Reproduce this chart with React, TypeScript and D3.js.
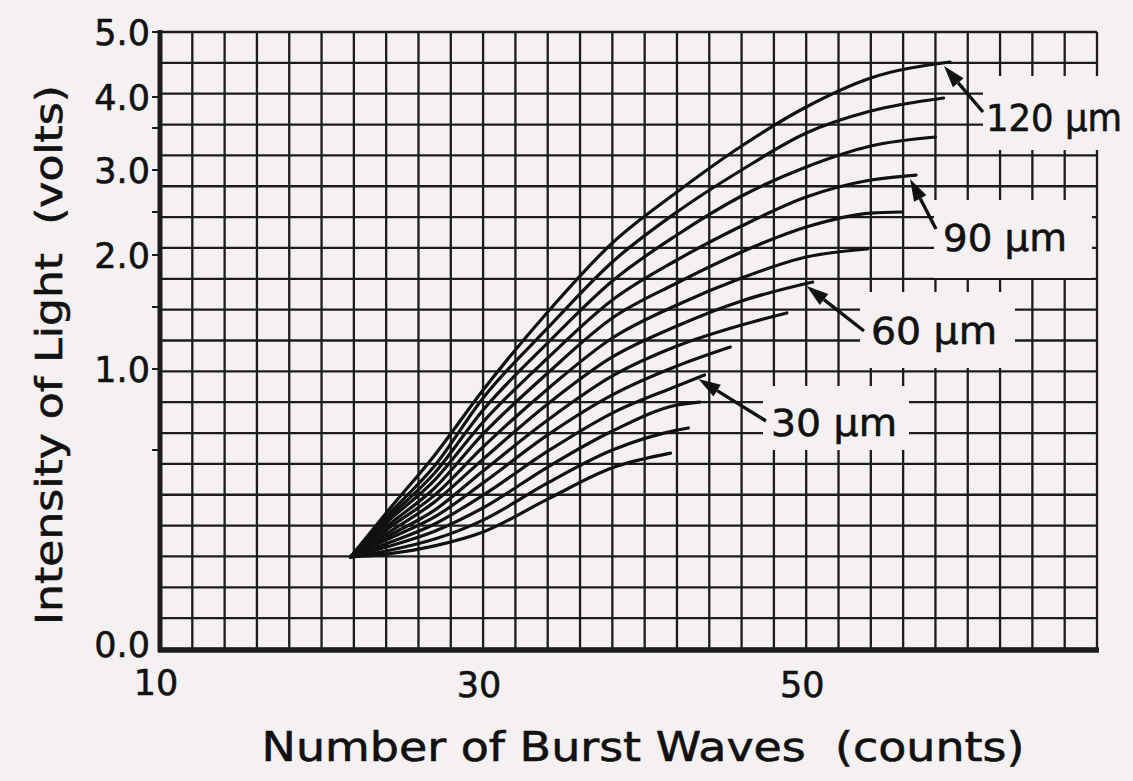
import React from 'react';
import * as d3 from 'd3';

// plate thickness of each curve (µm), bottom curve first
const thickness = [0, 10, 20, 30, 40, 50, 60, 70, 80, 90, 100, 110, 120];
const labelled = [30, 60, 90, 120];

// [burst waves (counts), intensity (volts)]
const s0 = [[21.8, 0.23], [24, 0.237], [27, 0.258], [30, 0.293], [34, 0.376], [38, 0.455], [41.6, 0.492]];
const s10 = [[21.8, 0.23], [24, 0.245], [27, 0.275], [30, 0.323], [34, 0.417], [38, 0.5], [42, 0.623], [42.7, 0.636]];
const s20 = [[21.8, 0.23], [24, 0.255], [27, 0.295], [30, 0.354], [34, 0.457], [38, 0.617], [42, 0.778], [43.4, 0.796]];
const s30 = [[21.8, 0.23], [24, 0.263], [27, 0.313], [30, 0.386], [34, 0.497], [38, 0.728], [42, 0.895], [43.7, 0.963]];
const s40 = [[21.8, 0.23], [24, 0.273], [27, 0.331], [30, 0.417], [34, 0.593], [38, 0.84], [42, 1.024], [45.3, 1.177]];
const s50 = [[21.8, 0.23], [24, 0.28], [27, 0.348], [30, 0.447], [34, 0.685], [38, 0.957], [42, 1.185], [46, 1.355], [48.8, 1.452]];
const s60 = [[21.8, 0.23], [24, 0.288], [27, 0.369], [30, 0.477], [34, 0.784], [38, 1.097], [42, 1.347], [46, 1.558], [50.4, 1.74]];
const s70 = [[21.8, 0.23], [24, 0.298], [27, 0.386], [30, 0.519], [34, 0.877], [38, 1.25], [42, 1.519], [46, 1.779], [50, 1.981], [53.8, 2.07]];
const s80 = [[21.8, 0.23], [24, 0.306], [27, 0.404], [30, 0.599], [34, 0.975], [38, 1.411], [42, 1.731], [46, 2.035], [50, 2.326], [54, 2.488], [55.9, 2.5]];
const s90 = [[21.8, 0.23], [24, 0.316], [27, 0.424], [30, 0.673], [34, 1.089], [38, 1.567], [42, 1.952], [46, 2.337], [50, 2.679], [54, 2.881], [56.8, 2.94]];
const s100 = [[21.8, 0.23], [24, 0.323], [27, 0.442], [30, 0.747], [34, 1.21], [38, 1.75], [42, 2.233], [46, 2.69], [50, 3.036], [54, 3.286], [58, 3.393]];
const s110 = [[21.8, 0.23], [24, 0.331], [27, 0.46], [30, 0.821], [34, 1.331], [38, 1.933], [42, 2.5], [46, 3.0], [50, 3.44], [54, 3.774], [58.5, 3.984]];
const s120 = [[21.8, 0.23], [24, 0.341], [27, 0.487], [30, 0.87], [34, 1.46], [38, 2.14], [42, 2.738], [46, 3.286], [50, 3.839], [54, 4.292], [58.9, 4.538]];
const series = [s0, s10, s20, s30, s40, s50, s60, s70, s80, s90, s100, s110, s120];

const yTicks = [0, 1, 2, 3, 4, 5];
const yMinor = [0.5, 1.5, 2.5, 3.5];
const xTicks = [10, 30, 50];

const W = 1133;
const H = 781;
const BG = '#f5f1f3';
const INK = '#1c1c1c';
const FONT = '"DejaVu Sans", sans-serif';

const plot = { left: 160, right: 1097, top: 32, bottom: 649 };
// the volt axis of the original paper is not linear: break points of the scale
const voltStops = [0, 0.5, 1, 1.5, 2, 2.5, 3, 3.5, 4, 5];
const voltPos = [648, 450, 369, 307, 255, 212, 170, 128, 97, 32];

// label boxes (x, y, w, h), text origin, text width, arrow start
const labelLayout: Record<number, { box: number[]; text: number[]; len: number; from: number[] }> = {
  120: { box: [983, 76, 150, 74], text: [986, 131], len: 136, from: [983, 112] },
  90: { box: [934, 200, 158, 78], text: [943, 251], len: 124, from: [936, 229] },
  60: { box: [860, 292, 155, 76], text: [871, 344], len: 126, from: [864, 331] },
  30: { box: [763, 386, 146, 64], text: [771, 436], len: 126, from: [766, 421] },
};

export default function App() {
  const x = d3.scaleLinear().domain([10, 68]).range([plot.left, plot.right]);
  const y = d3.scaleLinear().domain(voltStops).range(voltPos);
  const row = d3.scaleLinear().domain([0, 20]).range([plot.bottom, plot.top]);

  const line = d3
    .line<number[]>()
    .x((d) => x(d[0]))
    .y((d) => y(d[1]))
    .curve(d3.curveMonotoneX);

  const vLines = d3.range(10, 68.01, 2);
  const hLines = d3.range(0, 21);

  const textStyle = { fontFamily: FONT, fill: '#111', stroke: '#111', strokeWidth: 0.6 };

  return (
    <svg width={W} height={H} style={{ position: 'absolute', left: 0, top: 0, background: BG }}>
      <rect width={W} height={H} fill={BG} />
      <g stroke={INK} strokeWidth={2.3}>
        {vLines.map((v) => (
          <line key={'v' + v} x1={x(v)} x2={x(v)} y1={plot.top} y2={plot.bottom} />
        ))}
        {hLines.map((r) => (
          <line key={'h' + r} x1={plot.left} x2={plot.right} y1={row(r)} y2={row(r)} />
        ))}
      </g>
      {/* axis lines */}
      <line x1={plot.left} x2={plot.left} y1={plot.top - 2} y2={plot.bottom + 3} stroke={INK} strokeWidth={5} />
      <line x1={plot.left - 2} x2={plot.right + 2} y1={plot.bottom + 1} y2={plot.bottom + 1} stroke={INK} strokeWidth={5.5} />
      <g stroke={INK} strokeWidth={2}>
        {yTicks.concat(yMinor).filter((v) => v > 0).map((v) => (
          <line key={'t' + v} x1={plot.left - 8} x2={plot.left} y1={y(v)} y2={y(v)} />
        ))}
      </g>

      {/* blank label areas on the paper */}
      {labelled.map((t) => {
        const b = labelLayout[t].box;
        return <rect key={'b' + t} x={b[0]} y={b[1]} width={b[2]} height={b[3]} fill={BG} />;
      })}

      <g fill="none" stroke="#111" strokeWidth={3.2} strokeLinecap="round">
        {series.map((s, i) => (
          <path key={'c' + thickness[i]} d={line(s) || ''} />
        ))}
      </g>

      {labelled.map((t) => {
        const s = series[thickness.indexOf(t)];
        const end = s[s.length - 1];
        const tip = [x(end[0]) - 6, y(end[1]) + 4];
        const L = labelLayout[t];
        const dx = tip[0] - L.from[0];
        const dy = tip[1] - L.from[1];
        const len = Math.hypot(dx, dy);
        const ux = dx / len;
        const uy = dy / len;
        const hl = 22;
        const hw = 7;
        const bx = tip[0] - ux * hl;
        const by = tip[1] - uy * hl;
        const head = `M${tip[0]},${tip[1]} L${bx - uy * hw},${by + ux * hw} L${bx + uy * hw},${by - ux * hw} Z`;
        return (
          <g key={'l' + t}>
            <line x1={L.from[0]} y1={L.from[1]} x2={bx} y2={by} stroke="#111" strokeWidth={3.4} />
            <path d={head} fill="#111" />
            <text
              x={L.text[0]}
              y={L.text[1]}
              fontSize={37}
              textLength={L.len}
              lengthAdjust="spacingAndGlyphs"
              style={textStyle}
            >
              {`${t} µm`}
            </text>
          </g>
        );
      })}

      {/* tick labels */}
      <g fontSize={35} style={textStyle}>
        {yTicks.map((v) => (
          <text key={'yl' + v} x={plot.left - 10} y={v === 0 ? y(v) + 9 : y(v) + 13} textAnchor="end">
            {v.toFixed(1)}
          </text>
        ))}
        {xTicks.map((v) => (
          <text key={'xl' + v} x={x(v) - 4} y={v === 10 ? 695 : 697} textAnchor="middle">
            {v}
          </text>
        ))}
      </g>

      <text
        transform="translate(62,355) rotate(-90)"
        textAnchor="middle"
        fontSize={38}
        textLength={540}
        lengthAdjust="spacingAndGlyphs"
        style={textStyle}
      >
        {'Intensity of Light\u00a0\u00a0(volts)'}
      </text>
      <text
        x={643}
        y={761}
        textAnchor="middle"
        fontSize={41}
        textLength={763}
        lengthAdjust="spacingAndGlyphs"
        style={textStyle}
      >
        {'Number of Burst Waves\u00a0\u00a0(counts)'}
      </text>
    </svg>
  );
}
